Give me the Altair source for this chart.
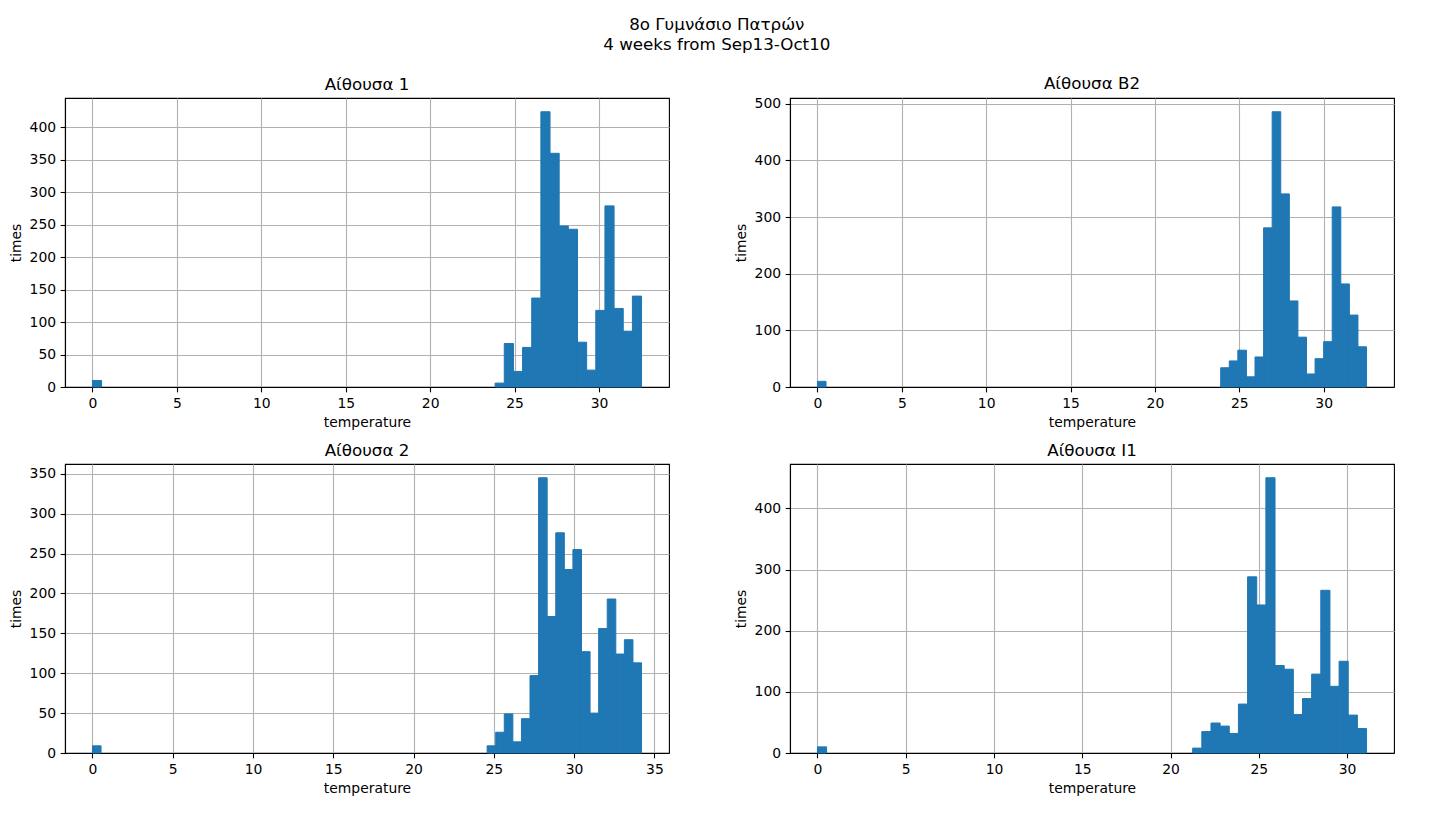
import altair as alt
import pandas as pd

# ---- data (histogram counts per bin) ----
titles = ["Αίθουσα 1", "Αίθουσα B2", "Αίθουσα 2", "Αίθουσα I1"]
n_bins = [60, 64, 64, 60]
t_max = [32.52, 32.54, 34.2, 31.1]
first_bin = [44, 47, 46, 41]
zero_counts = [10, 10, 9, 10]
counts_1 = [6, 67, 24, 61, 137, 424, 360, 248, 243, 69, 26, 118, 279, 121, 86, 140]
counts_b2 = [34, 46, 65, 18, 53, 281, 486, 341, 152, 88, 23, 50, 80, 318, 182, 127, 71]
counts_2 = [9, 26, 49, 14, 43, 97, 345, 171, 276, 230, 255, 127, 50, 156, 193, 124, 142, 113]
counts_i1 = [8, 35, 49, 44, 32, 80, 288, 242, 450, 143, 137, 63, 89, 129, 266, 109, 150, 62, 40]
all_counts = [counts_1, counts_b2, counts_2, counts_i1]
x_ticks = [[0, 5, 10, 15, 20, 25, 30],
           [0, 5, 10, 15, 20, 25, 30],
           [0, 5, 10, 15, 20, 25, 30, 35],
           [0, 5, 10, 15, 20, 25, 30]]
y_ticks = [[0, 50, 100, 150, 200, 250, 300, 350, 400],
           [0, 100, 200, 300, 400, 500],
           [0, 50, 100, 150, 200, 250, 300, 350],
           [0, 100, 200, 300, 400]]
suptitle = ["8o Γυμνάσιο Πατρών", "4 weeks from Sep13-Oct10"]

FONT = "DejaVu Sans"
FS = 13.9
BLUE = "#1f77b4"


def panel(k):
    n, tmax, start = n_bins[k], t_max[k], first_bin[k]
    counts = all_counts[k]
    w = tmax / n
    rows = [{"lo": 0.0, "hi": w, "count": zero_counts[k]}]
    for i, c in enumerate(counts):
        rows.append({"lo": (start + i) * w, "hi": (start + i + 1) * w, "count": c})
    df = pd.DataFrame(rows)
    ymax = 1.05 * max(counts + [zero_counts[k]])
    return alt.Chart(df, title=alt.TitleParams(
        titles[k], anchor="middle", frame="group", baseline="alphabetic",
        offset=-8.5, fontSize=16.7, font=FONT, fontWeight="normal", color="black"
    )).mark_bar(color=BLUE, stroke=BLUE, strokeWidth=1, opacity=1).encode(
        x=alt.X("lo:Q",
                scale=alt.Scale(domain=[-0.05 * tmax, 1.05 * tmax], nice=False, zero=False),
                axis=alt.Axis(values=x_ticks[k], format="d", title="temperature")),
        x2="hi:Q",
        y=alt.Y("count:Q",
                scale=alt.Scale(domain=[0, ymax], nice=False, zero=True),
                axis=alt.Axis(values=y_ticks[k], format="d", title="times")),
        y2=alt.datum(0),
    ).properties(width=604, height=289)


chart = alt.concat(
    panel(0), panel(1), panel(2), panel(3),
    columns=2,
    spacing={"row": 77, "column": 121},
    bounds="flush",
    title=alt.TitleParams(suptitle, anchor="middle", fontSize=16.7, lineHeight=20,
                          font=FONT, fontWeight="normal", color="black", dx=15,
                          offset=21.5),
).properties(
    padding={"left": 9, "top": 16, "right": 10, "bottom": 10},
    background="white",
).configure_axis(
    domainColor="black", domainWidth=1.1, tickColor="black", tickWidth=1.1,
    tickSize=4.86, labelFont=FONT, labelFontSize=FS, labelColor="black",
    labelPadding=4.5, titleFont=FONT, titleFontSize=FS, titleFontWeight="normal",
    titleColor="black", titlePadding=5.5, gridColor="#b0b0b0", gridWidth=1.1,
    gridOpacity=1, zindex=1, labelFlush=False, labelOverlap=False,
).configure_view(stroke="black", strokeWidth=1.1)

chart.save("out.html", embed_options={"renderer": "svg", "actions": False})
